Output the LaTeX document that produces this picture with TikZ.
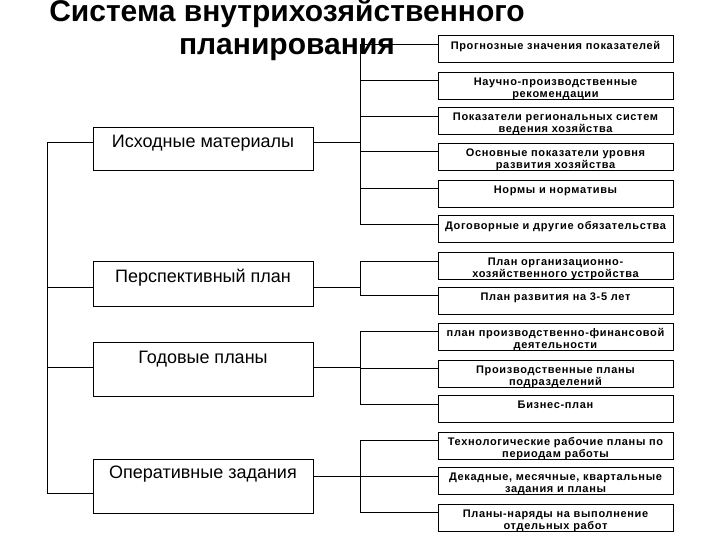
\documentclass[tikz,border=0pt]{standalone}
\usepackage{fontspec}
\setmainfont{Liberation Sans}
\newfontfamily\boxfont[LetterSpace=6]{Liberation Sans}
\usetikzlibrary{calc}

\tikzset{
  lbox/.style={draw, line width=0.8pt, rectangle, inner sep=0pt, minimum width=220pt},
  rbox/.style={draw, line width=0.8pt, rectangle, inner sep=0pt, minimum width=235pt, minimum height=27pt},
  ltxt/.style={anchor=north, inner sep=1pt, text height=13pt, font=\fontsize{18}{20}\selectfont},
  rtxt/.style={anchor=north, inner sep=1pt, align=center, font=\boxfont\bfseries\fontsize{11}{12}\selectfont},
  ttl/.style={anchor=base, inner sep=0pt, font=\bfseries\fontsize{30}{33}\selectfont},
  link/.style={line width=0.8pt},
}

\begin{document}
\begin{tikzpicture}[x=1pt, y=-1pt]
  \fill[white] (0,0) rectangle (720,540);
  \useasboundingbox (0,0) rectangle (720,540);

  % left column
  \node[lbox, minimum height=43pt] (isxod) at (203,148.5) {};
  \node[ltxt] (isxod-t) at ([yshift=-7pt]isxod.north) {Исходные материалы};
  \node[lbox, minimum height=45pt] (persp) at (203,283.5) {};
  \node[ltxt] (persp-t) at ([yshift=-8pt]persp.north) {Перспективный план};
  \node[lbox, minimum height=54pt] (godov) at (203,369) {};
  \node[ltxt] (godov-t) at ([yshift=-8pt]godov.north) {Годовые планы};
  \node[lbox, minimum height=54pt] (oper) at (203,486) {};
  \node[ltxt] (oper-t) at ([yshift=-6pt]oper.north) {Оперативные задания};

  % right column
  \node[rbox] (prognoz) at (555.5,49) {};
  \node[rtxt] (prognoz-t) at ([yshift=-5pt]prognoz.north) {Прогнозные значения показателей};
  \node[rbox] (nauch) at (555.5,85.5) {};
  \node[rtxt] (nauch-t) at ([yshift=-5pt]nauch.north) {Научно-производственные\\рекомендации};
  \node[rbox] (region) at (555.5,121) {};
  \node[rtxt] (region-t) at ([yshift=-5pt]region.north) {Показатели региональных систем\\ведения хозяйства};
  \node[rbox] (osnov) at (555.5,156.5) {};
  \node[rtxt] (osnov-t) at ([yshift=-5pt]osnov.north) {Основные показатели уровня\\развития хозяйства};
  \node[rbox] (normy) at (555.5,193.5) {};
  \node[rtxt] (normy-t) at ([yshift=-5pt]normy.north) {Нормы и нормативы};
  \node[rbox] (dogov) at (555.5,229) {};
  \node[rtxt] (dogov-t) at ([yshift=-5pt]dogov.north) {Договорные и другие обязательства};
  \node[rbox] (orgplan) at (555.5,266) {};
  \node[rtxt] (orgplan-t) at ([yshift=-5pt]orgplan.north) {План организационно-\\хозяйственного устройства};
  \node[rbox] (razv) at (555.5,300.5) {};
  \node[rtxt] (razv-t) at ([yshift=-5pt]razv.north) {План развития на 3-5 лет};
  \node[rbox] (pfd) at (555.5,336.5) {};
  \node[rtxt] (pfd-t) at ([yshift=-5pt]pfd.north) {план производственно-финансовой\\деятельности};
  \node[rbox] (podr) at (555.5,373.5) {};
  \node[rtxt] (podr-t) at ([yshift=-5pt]podr.north) {Производственные планы\\подразделений};
  \node[rbox] (biznes) at (555.5,409) {};
  \node[rtxt] (biznes-t) at ([yshift=-5pt]biznes.north) {Бизнес-план};
  \node[rbox] (tehn) at (555.5,445.5) {};
  \node[rtxt] (tehn-t) at ([yshift=-5pt]tehn.north) {Технологические рабочие планы по\\периодам работы};
  \node[rbox] (dekad) at (555.5,481) {};
  \node[rtxt] (dekad-t) at ([yshift=-5pt]dekad.north) {Декадные, месячные, квартальные\\задания и планы};
  \node[rbox] (naryad) at (555.5,517.5) {};
  \node[rtxt] (naryad-t) at ([yshift=-5pt]naryad.north) {Планы-наряды на выполнение\\отдельных работ};

  % buses
  \coordinate (lbus) at (47,0);
  \coordinate (rbus) at (360,0);
  \foreach \b in {prognoz,nauch,region,osnov,normy,dogov,orgplan,razv,pfd,podr,biznes,tehn,dekad,naryad}{
    \coordinate (\b-c) at ([yshift=-9pt]\b.north west);
    \draw[link] (\b-c) -- (\b-c -| rbus);
  }
  \foreach \b/\l/\r in {isxod/16/16, persp/27/27, godov/26/26, oper/35/18}{
    \coordinate (\b-l) at ([yshift=-\l pt]\b.north west);
    \coordinate (\b-r) at ([yshift=-\r pt]\b.north east);
    \draw[link] (\b-l) -- (\b-l -| lbus);
    \draw[link] (\b-r) -- (\b-r -| rbus);
  }
  \draw[link] (isxod-l -| lbus) -- (oper-l -| lbus);
  \draw[link] (prognoz-c -| rbus) -- (dogov-c -| rbus);
  \draw[link] (orgplan-c -| rbus) -- (razv-c -| rbus);
  \draw[link] (pfd-c -| rbus) -- (biznes-c -| rbus);
  \draw[link] (tehn-c -| rbus) -- (naryad-c -| rbus);

  % title
  \node[ttl] (title1) at (287,22) {Система внутрихозяйственного};
  \node[ttl] (title2) at (287,55) {планирования};
\end{tikzpicture}
\end{document}
